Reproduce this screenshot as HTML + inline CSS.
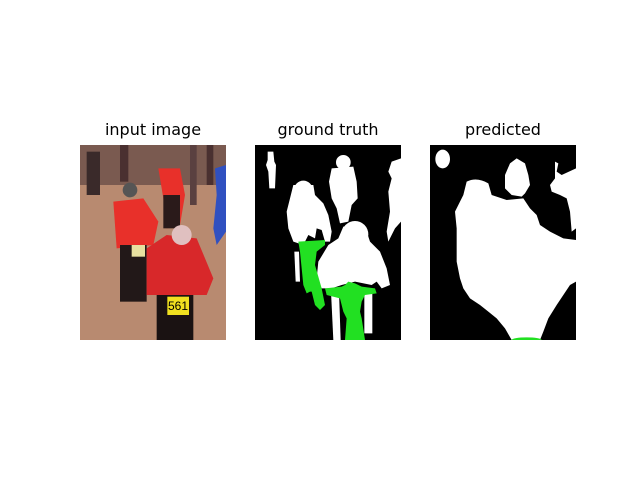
<!DOCTYPE html>
<html><head><meta charset="utf-8"><style>
body{margin:0;background:#fff;width:640px;height:480px;overflow:hidden;font-family:"DejaVu Sans","Liberation Sans",sans-serif}
.t{position:absolute;top:120px;width:146px;text-align:center;font-size:16px;color:#000}
svg{position:absolute;top:145px}
</style></head><body>
<div class="t" style="left:80px">input image</div>
<div class="t" style="left:255px">ground truth</div>
<div class="t" style="left:430px">predicted</div>

<svg style="left:80px" width="146" height="195" viewBox="0 0 438 585" preserveAspectRatio="none">
<rect width="438" height="585" fill="#b88a70"/>
<rect x="0" y="0" width="438" height="120" fill="#7a5a50"/>
<rect x="20" y="20" width="40" height="130" fill="#3a2a2a"/>
<rect x="120" y="0" width="25" height="110" fill="#4a3030"/>
<rect x="330" y="0" width="20" height="180" fill="#5a4040"/>
<rect x="380" y="0" width="20" height="120" fill="#4a3030"/>
<path d="M235,70 L300,70 L315,150 L300,240 L260,250 L250,160 Z" fill="#e8302a"/>
<rect x="250" y="150" width="50" height="100" fill="#2a1a1a"/>
<path d="M405,70 L438,60 L438,260 L410,300 L400,250 L410,150 Z" fill="#3050c0"/>
<path d="M100,170 L190,160 L235,230 L220,300 L110,310 Z" fill="#e8302a"/>
<circle cx="150" cy="135" r="22" fill="#555"/>
<rect x="120" y="300" width="80" height="170" fill="#221818"/>
<path d="M200,310 L260,270 L350,280 L400,400 L380,450 L200,450 Z" fill="#d8282a"/>
<circle cx="305" cy="270" r="30" fill="#e0c0c0"/>
<rect x="230" y="450" width="110" height="135" fill="#1a1212"/>
<rect x="262" y="455" width="65" height="55" fill="#f0e020"/>
<text x="294" y="495" font-size="36" text-anchor="middle" fill="#000" font-family="Liberation Sans">561</text>
<rect x="155" y="300" width="40" height="35" fill="#e8e0a0"/>
</svg>

<svg style="left:255px" width="146" height="195" viewBox="0 0 438 585" preserveAspectRatio="none">
<rect width="438" height="585" fill="#000"/>
<g fill="#fff">
<polygon points="38,20 55,20 58,50 63,60 60,130 43,130 40,80 33,60 38,45"/>
<circle cx="265" cy="52" r="22"/>
<polygon points="230,70 295,65 305,110 308,160 290,180 280,230 255,235 245,190 230,160 222,110"/>
<polygon points="410,50 438,40 438,230 420,250 400,290 395,260 405,200 400,140 410,100 400,80"/>
<circle cx="145" cy="135" r="28"/>
<polygon points="115,120 175,120 180,150 205,175 220,210 230,260 225,290 210,290 200,255 185,250 180,280 160,270 145,300 115,290 100,250 95,200 105,160"/>
<polygon points="118,320 132,320 135,410 122,410"/>
<circle cx="300" cy="268" r="40"/>
<polygon points="265,245 330,245 345,290 375,320 395,370 405,420 380,430 365,410 350,420 300,410 260,420 230,430 200,430 185,400 190,350 220,300 250,280"/>
<polygon points="228,440 252,440 257,585 235,585"/>
<polygon points="328,440 352,440 352,565 328,565"/>
</g>
<g fill="#22e022">
<polygon points="130,290 210,285 210,300 185,320 180,360 200,430 210,480 195,495 180,480 170,440 165,440 155,445 145,420 140,370 135,320"/>
<polygon points="210,430 260,425 270,420 280,410 300,415 320,425 360,430 365,445 330,450 320,470 315,500 320,520 330,585 270,585 275,520 265,500 255,460 215,450"/>
</g>
</svg>

<svg style="left:430px" width="146" height="195" viewBox="0 0 438 585" preserveAspectRatio="none">
<rect width="438" height="585" fill="#000"/>
<g fill="#fff">
<ellipse cx="38" cy="42" rx="22" ry="28"/>
<path d="M260,40 L285,55 L295,90 L300,120 L285,145 L275,155 L245,150 L225,130 L225,90 L240,55 Z"/>
<path d="M375,50 L385,55 L380,80 L395,90 L438,70 L438,250 L425,260 L420,200 L410,160 L390,150 L365,140 L360,120 L375,100 Z"/>
<path d="M110,110 Q140,95 175,115 L185,150 L230,165 L280,160 L300,190 L320,210 L330,240 L360,260 L400,280 L438,285 L438,410 L420,420 L400,450 L380,480 L355,520 L340,560 L330,585 L245,585 L225,550 L200,520 L175,500 L150,480 L120,460 L100,430 L90,400 L80,350 L80,250 L75,200 L90,170 L100,150 Z"/>
</g>
<ellipse cx="290" cy="585" rx="45" ry="8" fill="#22e022"/>
</svg>
</body></html>
